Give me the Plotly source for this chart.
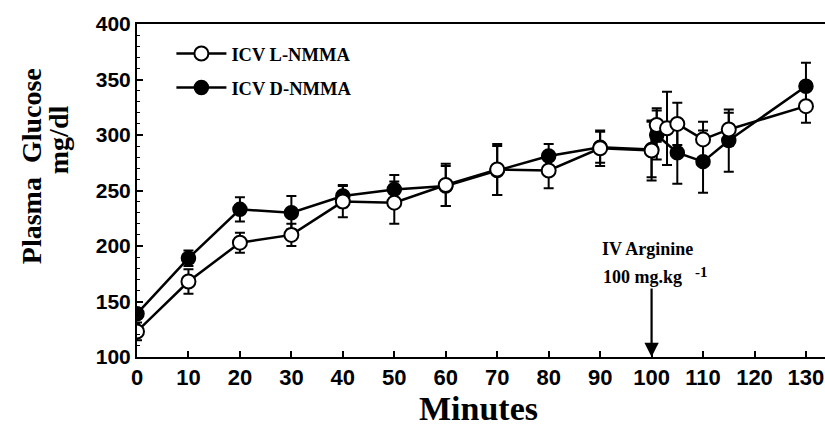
import plotly.graph_objects as go

# Data
minutes_L = [0, 10, 20, 30, 40, 50, 60, 70, 80, 90, 100, 101, 103, 105, 110, 115, 130]
glucose_L = [123, 168, 203, 210, 240, 239, 255, 269, 268, 288, 286, 309, 306, 310, 296, 305, 326]
err_L = [8, 11, 9, 10, 14, 19, 19, 23, 16, 16, 27, 15, 33, 19, 16, 15, 15]

minutes_D = [0, 10, 20, 30, 40, 50, 60, 70, 80, 90, 100, 101, 105, 110, 115, 130]
glucose_D = [139, 189, 233, 230, 245, 251, 254, 268, 281, 289, 287, 300, 284, 276, 295, 344]
err_D = [4, 7, 11, 15, 10, 13, 18, 22, 11, 14, 25, 22, 28, 28, 28, 21]

x_ticks = list(range(0, 131, 10))
y_ticks = [100, 150, 200, 250, 300, 350, 400]

SERIF = "Liberation Serif, Times New Roman, serif"
SANS = "Liberation Sans, Arial, sans-serif"

fig = go.Figure()

fig.add_trace(go.Scatter(
    x=minutes_D, y=glucose_D, name="ICV D-NMMA", mode="lines+markers",
    line=dict(color="black", width=2.5),
    marker=dict(symbol="circle", size=14, color="black", line=dict(color="black", width=1.5)),
    error_y=dict(type="data", array=err_D, color="black", thickness=2, width=5),
    legend="legend2",
))
fig.add_trace(go.Scatter(
    x=minutes_L, y=glucose_L, name="ICV L-NMMA", mode="lines+markers",
    line=dict(color="black", width=2.5),
    marker=dict(symbol="circle", size=14, color="white", line=dict(color="black", width=2)),
    error_y=dict(type="data", array=err_L, color="black", thickness=2, width=5),
    legend="legend",
))

legend_common = dict(
    font=dict(family=SERIF, size=18.5, color="black", weight="bold"),
    bgcolor="rgba(0,0,0,0)", xanchor="left", yanchor="middle",
    itemwidth=50,
)
fig.update_layout(
    width=825, height=433,
    margin=dict(l=137, r=0, t=24, b=76),
    paper_bgcolor="white", plot_bgcolor="white",
    showlegend=True,
    legend=dict(x=0.05, y=0.91, **legend_common),
    legend2=dict(x=0.05, y=0.808, **legend_common),
    xaxis=dict(
        range=[0, 133.7], tickvals=x_ticks, ticktext=[str(v) for v in x_ticks],
        ticks="inside", ticklen=6, tickwidth=1.5, tickcolor="black",
        showline=True, linecolor="black", linewidth=2, mirror=True,
        showgrid=False, zeroline=False,
        tickfont=dict(family=SANS, size=22, color="black", weight="bold"),
    ),
    yaxis=dict(
        range=[100, 400], tickvals=y_ticks,
        ticks="inside", ticklen=6, tickwidth=1.5, tickcolor="black",
        minor=dict(dtick=10, ticks="inside", ticklen=3, tickcolor="black", tickwidth=1),
        showline=True, linecolor="black", linewidth=2,
        showgrid=False, zeroline=False,
        tickfont=dict(family=SANS, size=21, color="black", weight="bold"),
    ),
)

title_font = dict(family=SERIF, size=28, color="black", weight="bold")
fig.add_annotation(text="Minutes", xref="paper", yref="paper", x=0.497, y=0,
                   yshift=-51, showarrow=False, font=dict(family=SERIF, size=34, color="black", weight="bold"),
                   xanchor="center", yanchor="middle")
fig.add_annotation(text="Plasma\u00a0\u00a0Glucose", xref="paper", yref="paper", x=0, y=0.573,
                   xshift=-106, textangle=-90, showarrow=False, font=title_font,
                   xanchor="center", yanchor="middle")
fig.add_annotation(text="mg/dl", xref="paper", yref="paper", x=0, y=0.651,
                   xshift=-79, textangle=-90, showarrow=False, font=title_font,
                   xanchor="center", yanchor="middle")

# IV Arginine arrow and label
fig.add_annotation(x=100, y=100, xref="x", yref="y", text="", showarrow=True,
                   ax=0, ay=-70, arrowhead=2, arrowsize=1.3, arrowwidth=2.2, arrowcolor="black")
ann_font = dict(family=SERIF, size=18, color="black", weight="bold")
fig.add_annotation(x=100, y=100, xref="x", yref="y", text="IV Arginine", showarrow=False,
                   xshift=-4, yshift=108, font=ann_font, xanchor="center", yanchor="middle")
fig.add_annotation(x=100, y=100, xref="x", yref="y", text="100 mg.kg", showarrow=False,
                   xshift=-9, yshift=80, font=ann_font, xanchor="center", yanchor="middle")
fig.add_annotation(x=100, y=100, xref="x", yref="y", text="-1", showarrow=False,
                   xshift=50, yshift=85, font=dict(family=SERIF, size=15, color="black", weight="bold"),
                   xanchor="center", yanchor="middle")

fig.write_html("out.html")
